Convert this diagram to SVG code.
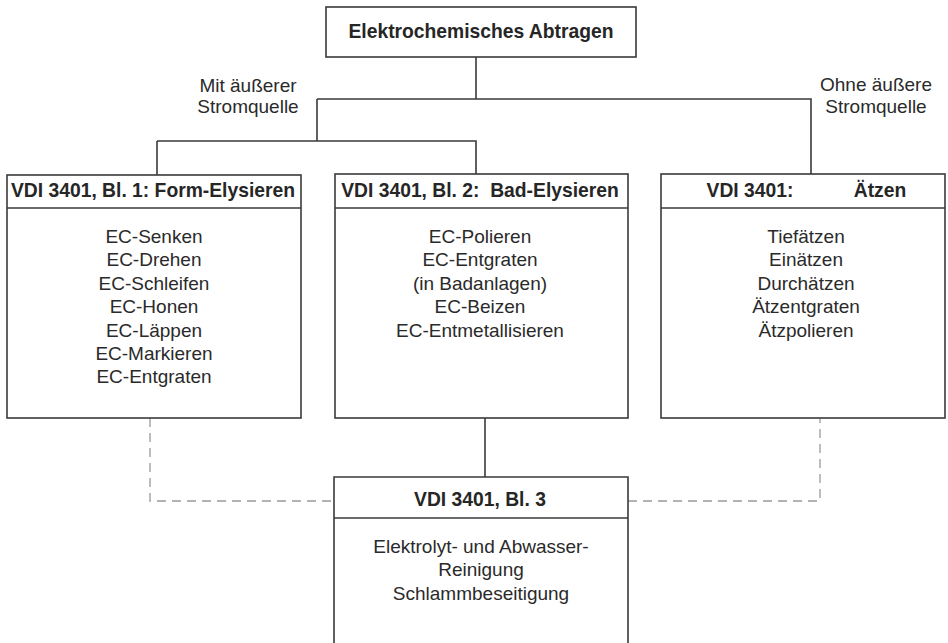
<svg xmlns="http://www.w3.org/2000/svg" width="948" height="643" viewBox="0 0 948 643">
<style>
.box{fill:#fff;stroke:#3a3a3a;stroke-width:1.6}
.sep{stroke:#3a3a3a;stroke-width:1.6;fill:none}
.ln{stroke:#3a3a3a;stroke-width:1.6;fill:none}
.dash{stroke:#9a9a9a;stroke-width:1.3;fill:none;stroke-dasharray:9 6}
.h{font-family:"Liberation Sans",Arial,sans-serif;font-weight:bold;font-size:19.3px;fill:#262626;text-anchor:middle;white-space:pre}
.t{font-family:"Liberation Sans",Arial,sans-serif;font-size:19px;fill:#2a2a2a;text-anchor:middle}
</style>
<rect width="948" height="643" fill="#fff"/>
<g id="connectors">
<path class="ln" d="M476,57 V99 M317,99 H811 V174 M317,99 V141 M157,141 H476 V174 M157,141 V175"/>
<path class="ln" d="M485,418 V477"/>
<path class="dash" d="M150,418 V501 H334"/>
<path class="dash" d="M628,501 H820 V418"/>
</g>
<g id="labels">
<text class="t" x="248" y="92">Mit äußerer</text>
<text class="t" x="248" y="113">Stromquelle</text>
<text class="t" x="876" y="91">Ohne äußere</text>
<text class="t" x="876" y="113">Stromquelle</text>
</g>
<g id="root">
<rect class="box" x="326" y="7" width="310" height="50"/>
<text class="h" x="481" y="38">Elektrochemisches Abtragen</text>
</g>
<g id="form">
<rect class="box" x="7" y="175" width="294" height="243"/>
<line class="sep" x1="7" y1="208" x2="301" y2="208"/>
<text class="h" x="153" y="197">VDI 3401, Bl. 1: Form-Elysieren</text>
<text class="t" x="154" y="243">EC-Senken</text>
<text class="t" x="154" y="266.4">EC-Drehen</text>
<text class="t" x="154" y="289.8">EC-Schleifen</text>
<text class="t" x="154" y="313.2">EC-Honen</text>
<text class="t" x="154" y="336.6">EC-Läppen</text>
<text class="t" x="154" y="360">EC-Markieren</text>
<text class="t" x="154" y="383.4">EC-Entgraten</text>
</g>
<g id="bad">
<rect class="box" x="335" y="174" width="293" height="244"/>
<line class="sep" x1="335" y1="208" x2="628" y2="208"/>
<text class="h" x="480" y="197">VDI 3401, Bl. 2:  Bad-Elysieren</text>
<text class="t" x="480" y="243">EC-Polieren</text>
<text class="t" x="480" y="266.4">EC-Entgraten</text>
<text class="t" x="480" y="289.8">(in Badanlagen)</text>
<text class="t" x="480" y="313.2">EC-Beizen</text>
<text class="t" x="480" y="336.6">EC-Entmetallisieren</text>
</g>
<g id="aetzen">
<rect class="box" x="661" y="174" width="284" height="244"/>
<line class="sep" x1="661" y1="208" x2="945" y2="208"/>
<text class="h" x="750" y="197">VDI 3401:</text>
<text class="h" x="880" y="197">Ätzen</text>
<text class="t" x="806" y="243">Tiefätzen</text>
<text class="t" x="806" y="266.4">Einätzen</text>
<text class="t" x="806" y="289.8">Durchätzen</text>
<text class="t" x="806" y="313.2">Ätzentgraten</text>
<text class="t" x="806" y="336.6">Ätzpolieren</text>
</g>
<g id="bl3">
<path class="box" d="M334,650 V477 H628 V650"/>
<line class="sep" x1="334" y1="518" x2="628" y2="518"/>
<text class="h" x="480" y="506">VDI 3401, Bl. 3</text>
<text class="t" x="481" y="553">Elektrolyt- und Abwasser-</text>
<text class="t" x="481" y="576.4">Reinigung</text>
<text class="t" x="481" y="599.8">Schlammbeseitigung</text>
</g>
</svg>
